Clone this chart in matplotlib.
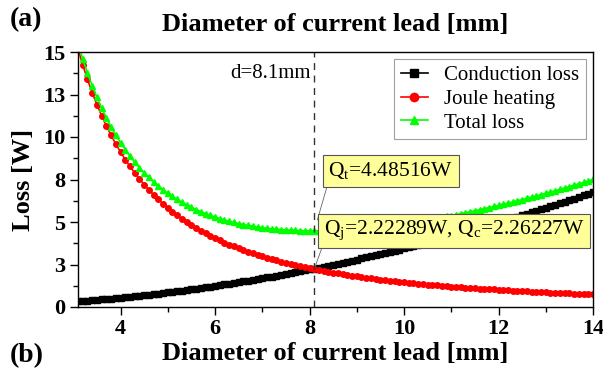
import numpy as np
import matplotlib
matplotlib.use("Agg")
import matplotlib.pyplot as plt

# 引线直径 [mm]
diameter = np.round(np.arange(3.1, 14.001, 0.1), 1)

# 导热损失 [W]
conduction = [
    0.331, 0.353, 0.375, 0.399, 0.422, 0.447, 0.472, 0.498, 0.524, 0.552,
    0.580, 0.608, 0.638, 0.668, 0.698, 0.730, 0.762, 0.794, 0.828, 0.862,
    0.897, 0.932, 0.969, 1.005, 1.043, 1.081, 1.120, 1.160, 1.200, 1.241,
    1.283, 1.325, 1.369, 1.412, 1.457, 1.502, 1.548, 1.594, 1.642, 1.690,
    1.738, 1.787, 1.837, 1.888, 1.940, 1.992, 2.044, 2.098, 2.152, 2.207,
    2.26227, 2.318, 2.375, 2.433, 2.491, 2.550, 2.610, 2.670, 2.731, 2.793,
    2.855, 2.918, 2.982, 3.047, 3.112, 3.178, 3.244, 3.311, 3.379, 3.448,
    3.517, 3.587, 3.658, 3.729, 3.801, 3.874, 3.948, 4.022, 4.097, 4.172,
    4.248, 4.325, 4.403, 4.481, 4.560, 4.640, 4.720, 4.801, 4.883, 4.965,
    5.048, 5.132, 5.216, 5.302, 5.388, 5.474, 5.561, 5.649, 5.738, 5.827,
    5.917, 6.008, 6.099, 6.191, 6.284, 6.377, 6.472, 6.566, 6.662, 6.758,
]

# 焦耳热 [W]
joule = [
    15.176, 14.242, 13.392, 12.616, 11.905, 11.253, 10.653, 10.100, 9.588, 9.115,
    8.676, 8.268, 7.887, 7.533, 7.202, 6.892, 6.602, 6.330, 6.074, 5.834,
    5.607, 5.393, 5.192, 5.001, 4.821, 4.650, 4.489, 4.335, 4.190, 4.051,
    3.919, 3.794, 3.674, 3.561, 3.452, 3.348, 3.249, 3.154, 3.063, 2.976,
    2.893, 2.813, 2.737, 2.663, 2.593, 2.525, 2.460, 2.397, 2.337, 2.279,
    2.22289, 2.169, 2.117, 2.067, 2.019, 1.972, 1.927, 1.883, 1.841, 1.800,
    1.761, 1.723, 1.686, 1.651, 1.616, 1.582, 1.550, 1.519, 1.488, 1.458,
    1.430, 1.402, 1.375, 1.348, 1.323, 1.298, 1.274, 1.250, 1.228, 1.205,
    1.184, 1.163, 1.142, 1.122, 1.103, 1.084, 1.065, 1.047, 1.030, 1.013,
    0.996, 0.980, 0.964, 0.948, 0.933, 0.919, 0.904, 0.890, 0.876, 0.863,
    0.850, 0.837, 0.824, 0.812, 0.800, 0.789, 0.777, 0.766, 0.755, 0.744,
]

# 总损失 = 导热 + 焦耳热
total = np.array(conduction) + np.array(joule)

d_opt = 8.1
q_t = 4.48516
q_j = 2.22289
q_c = 2.26227

plt.rcParams['font.family'] = ['Liberation Serif', 'DejaVu Serif']
plt.rcParams['mathtext.fontset'] = 'custom'
plt.rcParams['mathtext.rm'] = 'Liberation Serif'

fig = plt.figure(figsize=(6.03, 3.78), dpi=100)
ax = fig.add_axes([78 / 603, 1 - 307 / 378, 515 / 603, 255 / 378])

ax.plot(diameter, conduction, color="black", marker="s", markersize=3.8, lw=1.2,
        label="Conduction loss")
ax.plot(diameter, joule, color="red", marker="o", markersize=4, lw=1.2,
        label="Joule heating")
ax.plot(diameter, total, color="#00ff00", marker="^", markersize=4.3, lw=1.2,
        label="Total loss")

# 最优直径处的竖线
ax.axvline(d_opt, color="#333333", lw=1, ls=(0, (5, 4)))
ax.text(8.03, 13.75, "d=8.1mm", fontsize=15, ha="right", va="center")

box = dict(boxstyle="square,pad=0.25", fc="#ffff99", ec="#555555", lw=0.8)
ax.annotate(r"Q$_\mathregular{t}$=4.48516W", xy=(d_opt, q_t), xytext=(9.72, 8.0),
            fontsize=15.5, ha="center", va="center", bbox=box,
            arrowprops=dict(arrowstyle="-", color="#666666", lw=0.6,
                            relpos=(0, 0), shrinkA=0, shrinkB=8))
ax.annotate(r"Q$_\mathregular{j}$=2.22289W, Q$_\mathregular{c}$=2.26227W",
            xy=(d_opt, (q_j + q_c) / 2), xytext=(11.06, 4.47),
            fontsize=15.5, ha="center", va="center", bbox=box,
            arrowprops=dict(arrowstyle="-", color="#666666", lw=0.6,
                            relpos=(0, 0), shrinkA=0, shrinkB=2))

ax.set_xlim(3.1, 14)
ax.set_ylim(0, 15)
ax.set_xticks([4, 6, 8, 10, 12, 14])
ax.set_xticks([5, 7, 9, 11, 13], minor=True)
ax.set_yticks([0, 2.5, 5, 7.5, 10, 12.5, 15])
ax.set_yticklabels(["0", "3", "5", "8", "10", "13", "15"])
ax.set_yticks(np.arange(1.25, 15, 2.5), minor=True)
ax.tick_params(which="both", direction="out", width=1, labelsize=16, pad=3)
ax.tick_params(which="major", length=6)
ax.tick_params(which="minor", length=3.5)
for lab in ax.get_xticklabels() + ax.get_yticklabels():
    lab.set_fontweight("bold")
for sp in ax.spines.values():
    sp.set_linewidth(1)

ax.set_xlabel("Diameter of current lead [mm]", fontsize=19, fontweight="bold",
              labelpad=2)
ax.set_ylabel("Loss [W]", fontsize=19, fontweight="bold", labelpad=6)

leg = ax.legend(loc="upper right", fontsize=15, markerscale=1.5,
                handlelength=1.3, fancybox=False, edgecolor="#888888",
                borderaxespad=0.35, labelspacing=0.2, borderpad=0.3,
                handletextpad=0.8)
leg.get_frame().set_linewidth(0.8)

fig.text(335.5 / 603, 1 - 24 / 378, "Diameter of current lead [mm]",
         fontsize=19, fontweight="bold", ha="center", va="center")
fig.text(10 / 603, 1 - 20 / 378, "(a)", fontsize=20, fontweight="bold",
         ha="left", va="center")
fig.text(10 / 603, 1 - 356 / 378, "(b)", fontsize=20, fontweight="bold",
         ha="left", va="center")

fig.savefig("out.png", dpi=100)
